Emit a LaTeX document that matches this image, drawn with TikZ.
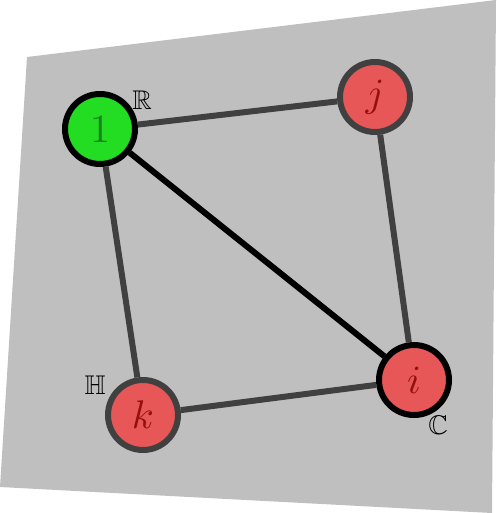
\documentclass[tikz,border=0pt]{standalone}
\usepackage{amssymb}
\usepackage{graphicx}
\definecolor{bggray}{RGB}{191,191,191}
\definecolor{dgray}{RGB}{64,64,64}
\definecolor{nodegreen}{RGB}{34,221,34}
\definecolor{textgreen}{RGB}{26,130,26}
\definecolor{nodered}{RGB}{232,87,87}
\definecolor{textred}{RGB}{150,15,15}
\tikzset{
  vert/.style={circle, minimum size=70pt, inner sep=0pt, line width=6pt, font=\fontsize{10}{12}\selectfont},
  greenv/.style={vert, draw=black, fill=nodegreen, text=textgreen},
  redv/.style={vert, draw=dgray, fill=nodered, text=textred},
  redvb/.style={vert, draw=black, fill=nodered, text=textred},
  edge/.style={line width=6pt, draw=dgray},
  edgeb/.style={line width=6pt, draw=black},
  setlabel/.style={inner sep=0pt, font=\fontsize{10}{12}\selectfont}
}
\newcommand{\setsym}[1]{\scalebox{2.7}{$\mathbb{#1}$}}
\newcommand{\vtext}[1]{\scalebox{4}{#1}}
\begin{document}
\begin{tikzpicture}[x=1pt,y=-1pt]
\useasboundingbox (0,0) rectangle (496,513);
\fill[bggray] (27,57) -- (496,0) -- (492,513) -- (0,487) -- cycle;
\node[greenv] (one) at (100,129) {\vtext{1}};
\node[redv] (j) at (375,97) {\vtext{$j$}};
\node[redvb] (i) at (414,380) {\vtext{$i$}};
\node[redv] (k) at (143,415) {\vtext{$k$}};
\draw[edge] (one) -- (j);
\draw[edgeb] (one) -- (i);
\draw[edge] (one) -- (k);
\draw[edge] (j) -- (i);
\draw[edge] (k) -- (i);
\node[setlabel] (R) at (142,100) {\setsym{R}};
\node[setlabel] (C) at (438,425) {\setsym{C}};
\node[setlabel] (H) at (95,385) {\setsym{H}};
\end{tikzpicture}
\end{document}
